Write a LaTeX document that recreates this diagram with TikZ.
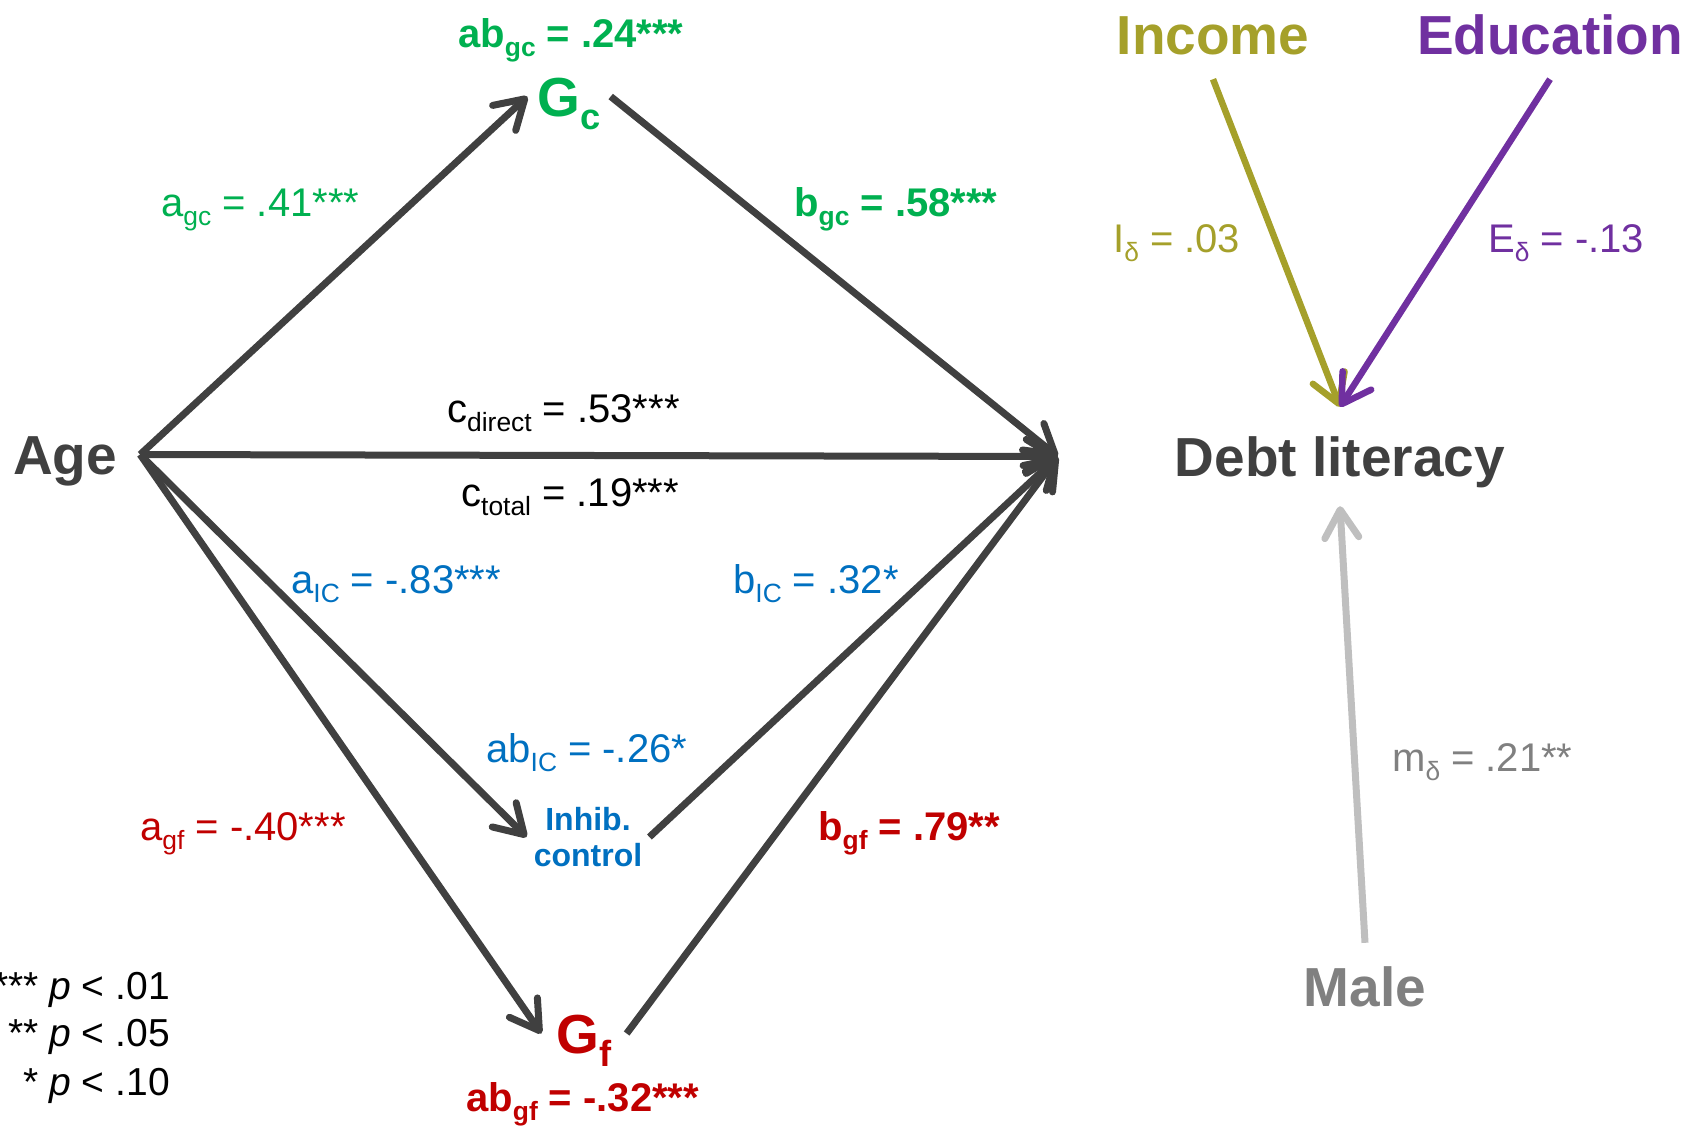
\documentclass[tikz,border=0pt]{standalone}
\usepackage{fontspec}
\setmainfont{Liberation Sans}
\usepackage{graphicx}
\usetikzlibrary{arrows.meta}
\definecolor{dk}{HTML}{404040}
\definecolor{grn}{HTML}{00B050}
\definecolor{blu}{HTML}{0070C0}
\definecolor{rd}{HTML}{C00000}
\definecolor{olv}{RGB}{165,160,42}
\definecolor{prp}{HTML}{7030A0}
\definecolor{gtx}{HTML}{808080}
\definecolor{gln}{HTML}{BFBFBF}
\newcommand\dn[1]{\raisebox{-0.24em}{\scalebox{0.66}{#1}}}
\begin{document}
\begin{tikzpicture}[x=1pt,y=-1pt,
  var/.style={font=\fontsize{55}{60}\selectfont\bfseries, text height=39pt, text depth=0pt, inner xsep=10pt, inner ysep=0pt, anchor=base},
  lab/.style={font=\fontsize{40}{48}\selectfont, inner sep=0pt, anchor=base west},
  blab/.style={lab, font=\fontsize{40}{48}\selectfont\bfseries},
  leg/.style={font=\fontsize{39}{46}\selectfont, inner sep=0pt, anchor=base east, text=black},
  arr/.style={-{Straight Barb[length=28pt,width=34pt,round]}, line width=7pt, draw=dk},
  ]
\useasboundingbox (0,0) rectangle (1688,1125);

% variables
\node[var, text=dk, inner xsep=23pt] (age) at (65,474) {Age};
\node[var, text=grn] (gc) at (569,116) {G\dn{c}};
\node[var, text=rd, inner xsep=15pt] (gf) at (584,1053) {G\dn{f}};
\node[font=\fontsize{32}{36}\selectfont\bfseries, text=blu, align=center, inner xsep=7pt, inner ysep=0pt] (ic) at (588,837) {Inhib.\\control};
\node[var, text=dk, inner xsep=117pt, inner ysep=30pt] (debt) at (1340,476) {Debt literacy};
\node[var, text=olv, inner ysep=25pt] (income) at (1213,54) {Income};
\node[var, text=prp, inner ysep=25pt] (education) at (1550,54) {Education};
\node[var, text=gtx, inner ysep=24pt] (male) at (1365,1006) {Male};

% connectors
\draw[arr] (age.east) -- (gc.west);
\draw[arr] (gc.east) -- (debt.west);
\draw[arr] (age.east) -- (debt.west);
\draw[arr] (age.east) -- (ic.west);
\draw[arr] (ic.east) -- (debt.west);
\draw[arr] (age.east) -- (gf.west);
\draw[arr] (gf.east) -- (debt.west);
\draw[arr, draw=olv, line width=6.5pt] (income.south) -- (debt.north);
\draw[arr, draw=prp, line width=6.5pt] (education.south) -- (debt.north);
\draw[arr, draw=gln, line width=7pt] (male.north) -- (debt.south);

% labels
\node[blab, text=grn] (labgc) at (458,47) {ab\dn{gc} = .24***};
\node[lab, text=grn] (lagc) at (161,216) {a\dn{gc} = .41***};
\node[blab, text=grn] (lbgc) at (794,216) {b\dn{gc} = .58***};
\node[lab, text=black] (lcd) at (447,422) {c\dn{direct} = .53***};
\node[lab, text=black] (lct) at (461,506) {c\dn{total} = .19***};
\node[lab, text=blu] (laic) at (291,593) {a\dn{IC} = -.83***};
\node[lab, text=blu] (lbic) at (733,593) {b\dn{IC} = .32*};
\node[lab, text=blu] (labic) at (486,762) {ab\dn{IC} = -.26*};
\node[lab, text=rd] (lagf) at (140,840) {a\dn{gf} = -.40***};
\node[blab, text=rd] (lbgf) at (818,840) {b\dn{gf} = .79**};
\node[blab, text=rd] (labgf) at (466,1111) {ab\dn{gf} = -.32***};
\node[lab, text=olv] (li) at (1113,252) {I\dn{δ} = .03};
\node[lab, text=prp] (le) at (1488,252) {E\dn{δ} = -.13};
\node[lab, text=gtx] (lm) at (1392,771) {m\dn{δ} = .21**};

% legend
\node[leg] (leg1) at (170,999) {*** \textit{p} < .01};
\node[leg] (leg2) at (170,1046) {** \textit{p} < .05};
\node[leg] (leg3) at (170,1095) {* \textit{p} < .10};
\end{tikzpicture}
\end{document}
